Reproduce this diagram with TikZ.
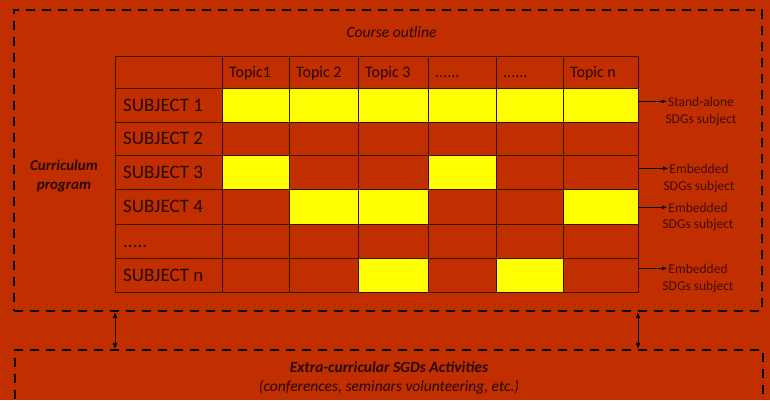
\documentclass[tikz,border=0pt]{standalone}
\usepackage{fontspec}
\setmainfont{Carlito}
\usetikzlibrary{arrows.meta}

\definecolor{bgred}{RGB}{193,46,0}
\definecolor{sdg}{RGB}{255,255,0}
\definecolor{gridline}{RGB}{62,14,0}
\definecolor{ink}{RGB}{38,8,0}
\definecolor{noteink}{RGB}{66,12,0}

\newcommand{\topicdots}{......}
\newcommand{\subjdots}{.....}

\tikzset{
  cell/.style={draw=none, inner sep=0pt, outer sep=0pt},
  gridrule/.style={draw=gridline, line width=1pt},
  frame/.style={draw=black, line width=2.2pt, dash pattern=on 9pt off 7pt, inner sep=0pt},
  head/.style={anchor=base west, inner sep=0pt, text=ink, font=\fontsize{16}{19}\selectfont},
  subj/.style={anchor=base west, inner sep=0pt, text=ink, font=\fontsize{19}{22}\selectfont},
  note/.style={anchor=base, inner sep=1pt, text=noteink, font=\fontsize{13.5}{16}\selectfont},
  title/.style={anchor=base, inner sep=0pt, text=ink},
  link/.style={-{Latex[length=5pt,width=4pt]}, line width=0.8pt},
  bilink/.style={{Latex[length=6pt,width=5pt]}-{Latex[length=6pt,width=5pt]}, line width=0.8pt},
}

\begin{document}
\begin{tikzpicture}[x=1pt, y=-1pt]

    % page in pixels, y grows downwards
    \useasboundingbox[fill=bgred] (0,0) rectangle (770,400);

    % the two dashed frames
    \node[frame, minimum width=748pt, minimum height=301pt] (curr) at (388,160.5) {};
    \node[frame, minimum width=748pt, minimum height=80pt] (extra) at (389,390) {};

    % table cells: rows 0..6, columns 0..6
    \foreach \r/\ya/\yb in {0/56/88,1/88/122,2/122/155,3/155/189,4/189/224,5/224/258,6/258/292}
      \foreach \c/\xa/\xb in {0/115/222,1/222/289,2/289/358,3/358/428,4/428/496,5/496/563,6/563/638}
        \node[cell, minimum width={(\xb-\xa)*1pt}, minimum height={(\yb-\ya)*1pt}]
          (c\r\c) at ({(\xa+\xb)/2},{(\ya+\yb)/2}) {};

    % topics covered by each subject
    \foreach \n in {11,12,13,14,15,16,31,34,42,43,46,63,65}
      \fill[sdg] (c\n.south west) rectangle (c\n.north east);

    % grid on top of the fills
    \foreach \r in {0,...,6}
      \foreach \c in {0,...,6}
        \draw[gridrule] (c\r\c.south west) rectangle (c\r\c.north east);

    % column and row headings
    \foreach \c/\t in {1/Topic1,2/Topic 2,3/Topic 3,4/\topicdots,5/\topicdots,6/Topic n}
      \node[head] (h\c) at ([shift={(7,5)}]c0\c.west) {\t};
    \foreach \r/\t in {1/SUBJECT 1,2/SUBJECT 2,3/SUBJECT 3,4/SUBJECT 4,5/\subjdots,6/SUBJECT n}
      \node[subj] (s\r) at ([shift={(8,6)}]c\r0.west) {\t};

    % notes on the right
    \foreach \r/\x/\ya/\yb/\t in {1/701/106/123/Stand-alone,3/699/173/190/Embedded,
                                  4/698/212/228/Embedded,6/698/273/290/Embedded}
    {
      \node[note] (tag\r) at (\x,\ya) {\t};
      \node[note] (tagb\r) at (\x,\yb) {SDGs subject};
      \draw[link] (c\r6.east |- tag\r.west) -- (tag\r.west);
    }

    % frame titles
    \node[title, font=\fontsize{15.5}{18}\selectfont\itshape] (outline) at (391.5,37) {Course outline};
    \node[title, anchor=center, align=center, font=\fontsize{15}{19}\selectfont\bfseries\itshape]
      (program) at (64,176) {Curriculum\\program};
    \node[title, font=\fontsize{15.5}{18}\selectfont\bfseries\itshape] (extitle) at (389,372)
      {Extra-curricular SGDs Activities};
    \node[title, font=\fontsize{15.5}{18}\selectfont\itshape] (exlist) at (389,391)
      {(conferences, seminars volunteering, etc.)};

    % links between the frames
    \draw[bilink] (c60.south west |- curr.south) -- (c60.south west |- extra.north);
    \draw[bilink] (c66.south east |- curr.south) -- (c66.south east |- extra.north);

\end{tikzpicture}
\end{document}
